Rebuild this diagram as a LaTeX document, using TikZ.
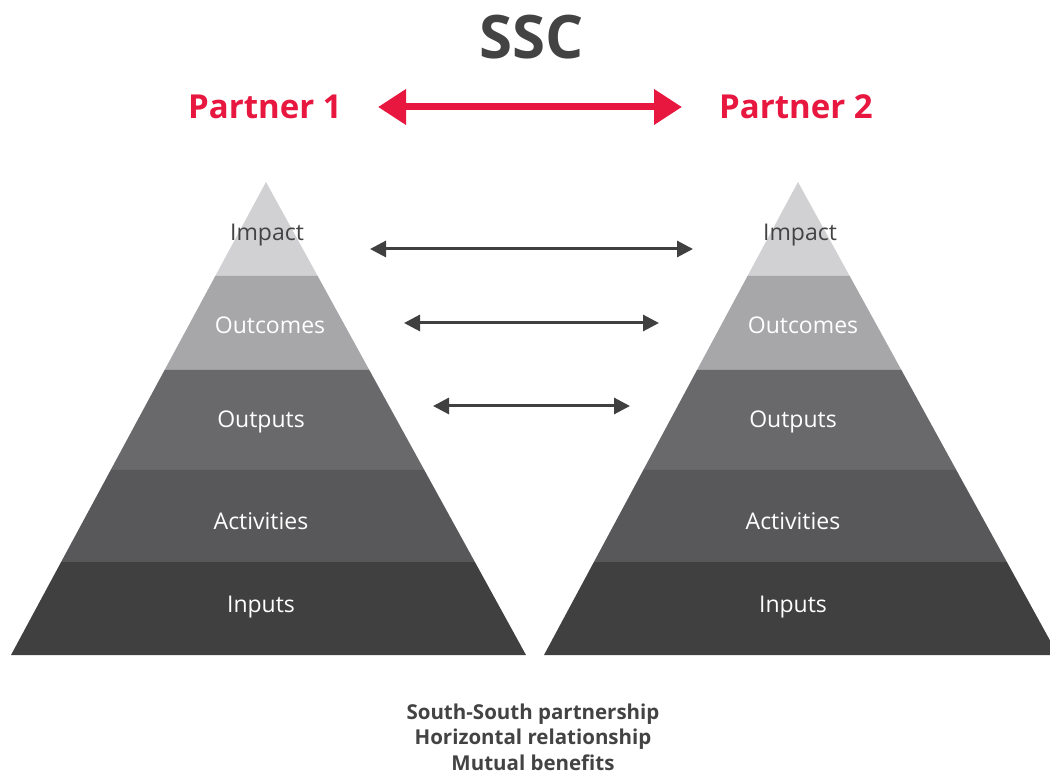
\documentclass[tikz,border=0pt]{standalone}
\usepackage{fontspec}
\setmainfont{Open Sans}
\usetikzlibrary{arrows.meta}
\definecolor{ssctext}{HTML}{434343}
\definecolor{sscred}{HTML}{E8173F}
\definecolor{impactgray}{HTML}{D1D1D3}
\definecolor{outcomegray}{HTML}{A7A7AA}
\definecolor{outputgray}{HTML}{69696C}
\definecolor{activitygray}{HTML}{58585A}
\definecolor{inputgray}{HTML}{404040}
\tikzset{
  layerlabel/.style={font=\fontsize{23}{28}\selectfont, text=white},
  partnerlabel/.style={font=\fontsize{33}{40}\selectfont\bfseries, text=sscred},
  redlink/.style={draw=sscred, line width=7pt, {Triangle[length=28pt,width=34pt]}-{Triangle[length=28pt,width=34pt]}},
  levellink/.style={draw=inputgray, line width=3pt, {Triangle[length=16pt,width=16pt]}-{Triangle[length=16pt,width=16pt]}}
}
\begin{document}
\begin{tikzpicture}[x=1pt,y=-1pt]
		\useasboundingbox (0,0) rectangle (1050,775);
		\node [font=\fontsize{60}{70}\selectfont\bfseries, text=ssctext](title) at (532,37) {SSC};
		\node [partnerlabel](partner1) at (265,107) {Partner 1};
		\node [partnerlabel](partner2) at (796,107) {Partner 2};
		\coordinate (redL) at (378,107);
		\coordinate (redR) at (682,107);
		\draw [redlink] (redL) -- (redR);
		% left pyramid
		\fill [impactgray] (266,182) -- (317.7,276) -- (215.3,276) -- cycle;
		\fill [outcomegray] (215.3,276) -- (317.7,276) -- (369.3,370) -- (164.6,370) -- cycle;
		\fill [outputgray] (164.6,370) -- (369.3,370) -- (424.3,470) -- (110.7,470) -- cycle;
		\fill [activitygray] (110.7,470) -- (424.3,470) -- (474.9,562) -- (61.1,562) -- cycle;
		\fill [inputgray] (61.1,562) -- (474.9,562) -- (526,655) -- (11,655) -- cycle;
		\node [layerlabel, text=ssctext](impactL) at (267,235) {Impact};
		\node [layerlabel](outcomesL) at (270,325) {Outcomes};
		\node [layerlabel](outputsL) at (261,422) {Outputs};
		\node [layerlabel](activitiesL) at (261,521) {Activities};
		\node [layerlabel](inputsL) at (261,607) {Inputs};
		% right pyramid
		\fill [impactgray] (798,182) -- (849.7,276) -- (747.5,276) -- cycle;
		\fill [outcomegray] (747.5,276) -- (849.7,276) -- (901.4,370) -- (697,370) -- cycle;
		\fill [outputgray] (697,370) -- (901.4,370) -- (956.3,470) -- (643.3,470) -- cycle;
		\fill [activitygray] (643.3,470) -- (956.3,470) -- (1006.9,562) -- (593.9,562) -- cycle;
		\fill [inputgray] (593.9,562) -- (1006.9,562) -- (1058,655) -- (544,655) -- cycle;
		\node [layerlabel, text=ssctext](impactR) at (800,235) {Impact};
		\node [layerlabel](outcomesR) at (803,325) {Outcomes};
		\node [layerlabel](outputsR) at (793,422) {Outputs};
		\node [layerlabel](activitiesR) at (793,521) {Activities};
		\node [layerlabel](inputsR) at (793,607) {Inputs};
		% links between levels
		\coordinate (impactA) at (370,249);
		\coordinate (impactB) at (693,249);
		\coordinate (outcomesA) at (404,323);
		\coordinate (outcomesB) at (659,323);
		\coordinate (outputsA) at (433,406);
		\coordinate (outputsB) at (630,406);
		\draw [levellink] (impactA) -- (impactB);
		\draw [levellink] (outcomesA) -- (outcomesB);
		\draw [levellink] (outputsA) -- (outputsB);
		\node [font=\fontsize{20.5}{25.5}\selectfont\bfseries, text=ssctext, align=center, inner sep=0pt](caption) at (533,737) {South-South partnership\\Horizontal relationship\\Mutual benefits};
\end{tikzpicture}
\end{document}
